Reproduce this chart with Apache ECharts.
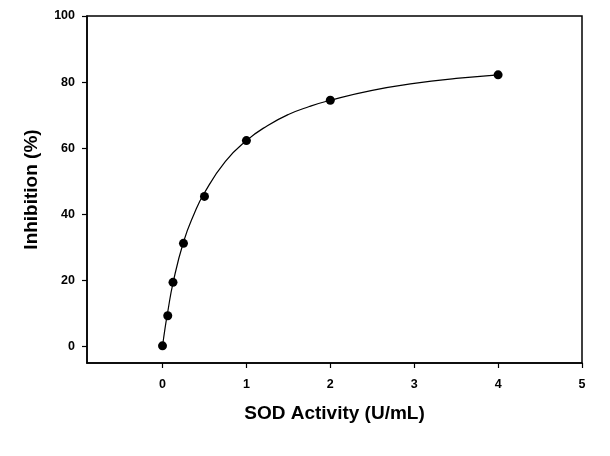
<!DOCTYPE html>
<html>
<head>
<meta charset="utf-8" />
<title>SOD Inhibition</title>
<script src="https://cdn.jsdelivr.net/npm/echarts@6/dist/echarts.min.js"></script>
<style>
  html, body { margin: 0; padding: 0; background: #fff; }
  #chart { width: 610px; height: 456px; }
</style>
</head>
<body>
<div id="chart"></div>
<script>
// measured points
const sodActivity = [0, 0.0625, 0.125, 0.25, 0.5, 1, 2, 4];
const inhibition = [0.2, 9.3, 19.4, 31.2, 45.4, 62.3, 74.5, 82.2];

// fitted curve
const curveX = [0, 0.03, 0.0625, 0.125, 0.25, 0.375, 0.5, 0.75, 1, 1.25, 1.5, 1.75, 2, 2.5, 3, 3.5, 4];
const curveY = [0, 5.5, 10.5, 19.2, 31.6, 40, 46.5, 56, 62.3, 66.8, 70.2, 72.6, 74.5, 77.5, 79.6, 81.1, 82.2];

// tick labels
const xTicks = [0, 1, 2, 3, 4, 5];
const yTicks = [0, 20, 40, 60, 80, 100];

const pair = function(xs, ys) {
  let res = [];
  for (let i = 0; i < xs.length; i++) res.push([xs[i], ys[i]]);
  return res;
};

const chart = echarts.init(document.getElementById('chart'));
const font = 'Liberation Sans, Arial, sans-serif';

chart.setOption({
  animation: false,
  grid: {
    left: 87, right: 28, top: 16, bottom: 93,
    containLabel: false,
    outerBoundsMode: 'none',
    show: true,
    borderColor: '#000',
    borderWidth: 1.5
  },
  xAxis: {
    type: 'value',
    min: -0.9,
    max: 5,
    name: 'SOD Activity (U/mL)',
    nameLocation: 'middle',
    nameGap: 41,
    nameTextStyle: { fontFamily: font, fontWeight: 'bold', fontSize: 19, color: '#000' },
    splitLine: { show: false },
    axisLine: { onZero: false, lineStyle: { color: '#000', width: 1.5 } },
    axisTick: { customValues: xTicks, length: 5, lineStyle: { color: '#000', width: 1.2 } },
    axisLabel: {
      customValues: xTicks, margin: 15,
      fontFamily: font, fontWeight: 'bold', fontSize: 12.5, color: '#000'
    }
  },
  yAxis: {
    type: 'value',
    min: -5,
    max: 100,
    name: 'Inhibition (%)',
    nameLocation: 'middle',
    nameGap: 46,
    nameTextStyle: { fontFamily: font, fontWeight: 'bold', fontSize: 19, color: '#000' },
    splitLine: { show: false },
    axisLine: { onZero: false, lineStyle: { color: '#000', width: 1.5 } },
    axisTick: { customValues: yTicks, length: 5, lineStyle: { color: '#000', width: 1.2 } },
    axisLabel: {
      customValues: yTicks, margin: 12,
      fontFamily: font, fontWeight: 'bold', fontSize: 12.5, color: '#000'
    }
  },
  series: [
    {
      name: 'fit',
      type: 'line',
      smooth: true,
      showSymbol: false,
      lineStyle: { color: '#000', width: 1.2 },
      data: pair(curveX, curveY),
      z: 2
    },
    {
      name: 'data',
      type: 'scatter',
      symbol: 'circle',
      symbolSize: 9,
      itemStyle: { color: '#000', opacity: 1 },
      data: pair(sodActivity, inhibition),
      z: 3
    }
  ]
});
</script>
</body>
</html>
